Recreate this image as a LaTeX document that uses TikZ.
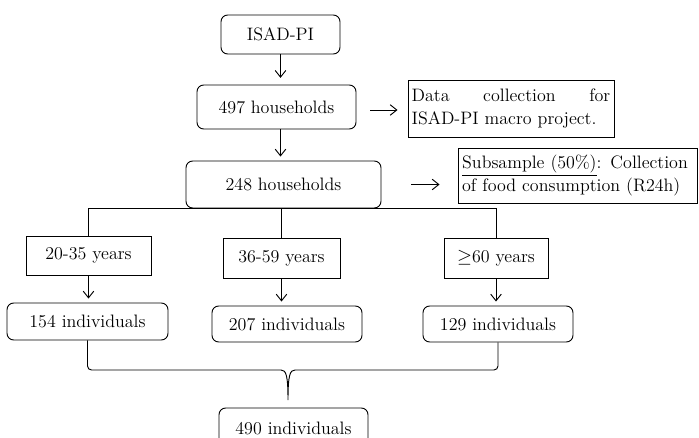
\documentclass[tikz,border=0pt]{standalone}
\usetikzlibrary{arrows.meta}
\begin{document}
\begin{tikzpicture}[x=0.75pt,y=-0.75pt,
  every node/.style={font=\fontsize{13.5}{17}\selectfont, inner sep=0pt, line width=0.7pt},
  rbox/.style={draw, rounded corners=5pt, align=center},
  sbox/.style={draw, align=center},
  conn/.style={line width=0.7pt},
  arr/.style={conn, -{Straight Barb[length=5pt,width=8pt]}}]

\useasboundingbox (0,0) rectangle (699,438);
\clip (0,0) rectangle (699,438);

% top chain
\node[rbox, minimum width=89.25pt, minimum height=29.25pt] (isad) at (280.5,34.5) {ISAD-PI};
\node[rbox, minimum width=119.25pt, minimum height=33pt] (h497) at (276.5,107) {497 households};
\node[draw, minimum width=154.5pt, minimum height=42.75pt, text width=149pt, align=left] (data) at (511,108.5)
  {\makebox[149pt][s]{Data\hfill collection\hfill for}\\ISAD-PI macro project.};
\node[rbox, minimum width=146.25pt, minimum height=35.25pt] (h248) at (283.5,184.5) {248 households};
\node[draw, minimum width=179.25pt, minimum height=41.25pt, text width=173pt, align=left] (sub) at (577.5,175.5)
  {\underline{Subsample (50\%)}: Collection\\of food consumption (R24h)};

% age groups
\node[sbox, minimum width=93.75pt, minimum height=29.25pt] (y2035) at (88.5,255.5) {20-35 years};
\node[sbox, minimum width=87.75pt, minimum height=30pt] (y3659) at (281.5,258) {36-59 years};
\node[sbox, minimum width=78pt, minimum height=30pt] (y60) at (496,258) {$\geq$60 years};

% individuals
\node[rbox, minimum width=120.75pt, minimum height=27.75pt] (i154) at (87.5,321.5) {154 individuals};
\node[rbox, minimum width=112.5pt, minimum height=27pt] (i207) at (287,324) {207 individuals};
\node[rbox, minimum width=112.5pt, minimum height=27pt] (i129) at (498,324) {129 individuals};
\node[rbox, minimum width=111.75pt, minimum height=30pt] (i490) at (293.5,428) {490 individuals};

% vertical arrows of the main chain
\draw[arr, shorten >=5pt] (isad.south) -- (isad.south |- h497.north);
\draw[arr, shorten >=3pt] (isad.south |- h497.south) -- (isad.south |- h248.north);

% side arrows
\draw[arr, shorten <=10.5pt, shorten >=7.5pt] ([yshift=-2.25pt]h497.east) -- ([yshift=-2.25pt]h497.east -| data.west);
\draw[arr, shorten <=22.5pt, shorten >=13.5pt] (h248.east) -- (h248.east -| sub.west);

% split into the age groups
\draw[conn] (y2035.north) -- (y2035.north |- h248.south) -- (y60.north |- h248.south) -- (y60.north);
\draw[conn] (y3659.north) -- (y3659.north |- h248.south);

\draw[arr, shorten >=3pt] (y2035.south) -- (y2035.south |- i154.north);
\draw[arr, shorten >=3pt] (y3659.south) -- (y3659.south |- i207.north);
\draw[arr, shorten >=3pt] (y60.south) -- (y60.south |- i129.north);

% brace joining the three groups
\coordinate (bar) at (0,370);
\coordinate (bl) at (281,370);
\coordinate (br) at (295,370);
\coordinate (cusp) at (288,400);
\draw[conn, rounded corners=3pt] (i154.south) -- (i154.south |- bar) -- (bl);
\draw[conn] (bl) .. controls (286,370) and (288,375) .. (cusp) .. controls (288,375) and (290,370) .. (br);
\draw[conn, rounded corners=3pt] (br) -- (i129.south |- bar) -- (i129.south);
\end{tikzpicture}
\end{document}
